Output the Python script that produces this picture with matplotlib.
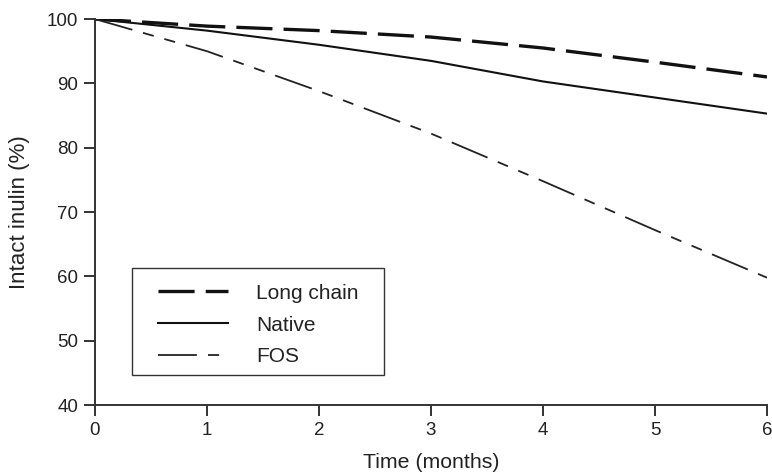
import matplotlib
matplotlib.use("Agg")
import matplotlib.pyplot as plt
from matplotlib.patches import Rectangle

plt.rcParams['font.family'] = ['Liberation Sans', 'DejaVu Sans']
plt.rcParams['lines.scale_dashes'] = False

months = [0, 1, 2, 3, 4, 5, 6]
long_chain = [100, 98.9, 98.2, 97.2, 95.5, 93.3, 91.0]
native = [100, 98.2, 96.0, 93.5, 90.3, 87.8, 85.3]
fos = [100, 95.0, 88.8, 82.2, 74.8, 67.2, 59.8]

fig = plt.figure(figsize=(7.72, 4.76), dpi=100)
ax = fig.add_axes([0.123, 0.149, 0.8705, 0.811])

ax.plot(months, long_chain, color='#111111', lw=2.4,
        linestyle=(0, (26, 8)), label='Long chain')
ax.plot(months, native, color='#111111', lw=1.5, label='Native')
ax.plot(months, fos, color='#222222', lw=1.3,
        linestyle=(0, (28, 8, 8, 8, 8, 8)), label='FOS')

ax.set_xlim(0, 6)
ax.set_ylim(40, 100)
ax.set_xticks(range(0, 7))
ax.set_yticks(range(40, 101, 10))
ax.spines['top'].set_visible(False)
ax.spines['right'].set_visible(False)
for s in ('left', 'bottom'):
    ax.spines[s].set_linewidth(1.4)
    ax.spines[s].set_color('#333333')
ax.tick_params(direction='out', length=8, width=1.4, color='#333333',
               labelsize=13.5, labelcolor='#222222', pad=4)
ax.set_xlabel('Time (months)', fontsize=15.3, color='#222222', labelpad=10)
ax.set_ylabel('Intact inulin (%)', fontsize=16, color='#222222', labelpad=12)

# legend text and handles, frame drawn separately as a plain box
leg = ax.legend(loc='center left', bbox_to_anchor=(0.0938, 0.2073), fontsize=15,
                frameon=False, handlelength=3.35, handletextpad=1.35,
                borderpad=0, labelspacing=0.62, borderaxespad=0)
for t in leg.get_texts():
    t.set_color('#222222')
ax.add_patch(Rectangle((0.055, 0.0777), 0.375, 0.2772, transform=ax.transAxes,
                       fill=False, edgecolor='#333333', linewidth=1.0, zorder=5))

fig.savefig('out.png', dpi=100)
